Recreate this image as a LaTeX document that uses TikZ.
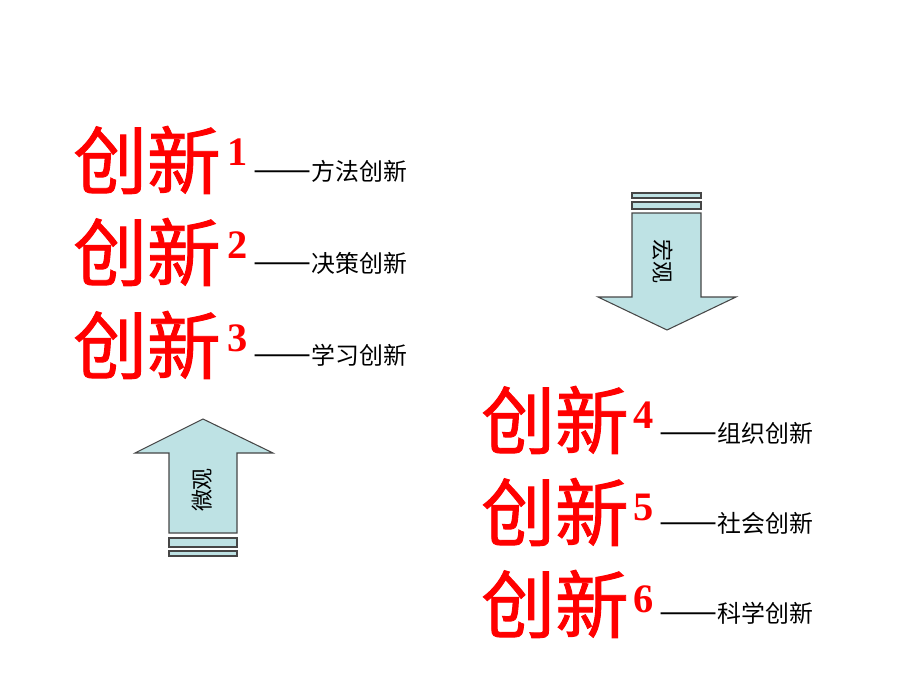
\documentclass[tikz,border=0pt]{standalone}
\usepackage{fontspec}
\usepackage{graphicx}
\newfontfamily\cjk{Noto Sans CJK SC}
\newfontfamily\cjkbold[FakeBold=1.2]{Noto Sans CJK SC}
\setmainfont{Liberation Serif}
\definecolor{arrowfill}{RGB}{190,226,228}
\definecolor{arrowline}{RGB}{70,70,70}
\newcommand{\longdash}{\scalebox{1.45}[1.3]{——}}
\tikzset{
  big/.style={inner sep=0pt, text=red, font=\cjkbold\fontsize{42}{42}\selectfont},
  supnum/.style={inner sep=0pt, text=red, font=\bfseries\fontsize{23}{23}\selectfont},
  lbl/.style={inner sep=0pt, anchor=west, font=\cjk\fontsize{13.6}{14}\selectfont},
  arrowshape/.style={fill=arrowfill, draw=arrowline, line width=0.6pt, line join=miter},
  vlabel/.style={inner sep=0pt, font=\cjk\fontsize{12.5}{13}\selectfont}
}
\begin{document}
\begin{tikzpicture}[x=0.02cm, y=-0.02cm]
\useasboundingbox (0,0) rectangle (920,690);
% left group
\node[big] (c1) at (147,160) {创新};
\node[supnum] (s1) at (238,152) {1};
\node[lbl] (l1) at (253,171) {\longdash 方法创新};
\node[big] (c2) at (147,252) {创新};
\node[supnum] (s2) at (238,245) {2};
\node[lbl] (l2) at (253,263) {\longdash 决策创新};
\node[big] (c3) at (147,345) {创新};
\node[supnum] (s3) at (238,338) {3};
\node[lbl] (l3) at (253,355) {\longdash 学习创新};
% right group
\node[big] (c4) at (555,420) {创新};
\node[supnum] (s4) at (644,415) {4};
\node[lbl] (l4) at (659,433) {\longdash 组织创新};
\node[big] (c5) at (555,512) {创新};
\node[supnum] (s5) at (644,507) {5};
\node[lbl] (l5) at (659,523) {\longdash 社会创新};
\node[big] (c6) at (555,604) {创新};
\node[supnum] (s6) at (644,599) {6};
\node[lbl] (l6) at (659,613) {\longdash 科学创新};
% down arrow (macro)
\draw[arrowshape] (632,193) rectangle (701,198);
\draw[arrowshape] (632,202) rectangle (701,209);
\draw[arrowshape] (632,213) -- (701,213) -- (701,297) -- (736,297) -- (667,330) -- (598,297) -- (632,297) -- cycle;
\node[vlabel, rotate=-90] (macro) at (663,261) {宏观};
% up arrow (micro)
\draw[arrowshape] (169,538) rectangle (237,547);
\draw[arrowshape] (169,551) rectangle (237,556);
\draw[arrowshape] (169,533) -- (169,453) -- (135,453) -- (203,419) -- (273,453) -- (237,453) -- (237,533) -- cycle;
\node[vlabel, rotate=90] (micro) at (202,490) {微观};
\end{tikzpicture}
\end{document}
